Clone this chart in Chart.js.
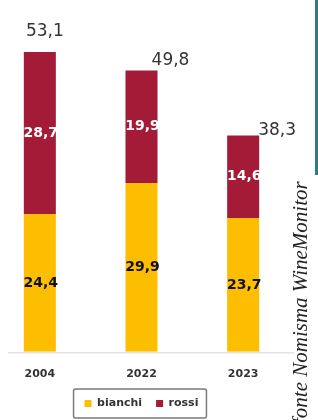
<!DOCTYPE html>
<html>
<head>
<meta charset="utf-8">
<script src="https://cdn.jsdelivr.net/npm/chart.js@4/dist/chart.umd.min.js"></script>
<style>
  html, body { margin: 0; padding: 0; background: #fff; overflow: hidden; }
  #Wrap { position: relative; width: 318px; height: 420px; overflow: hidden; }
  #Chart__Box { position: absolute; left: -11px; top: 0; width: 330px; height: 419px; }
  #Side__Bar { position: absolute; left: 315px; top: 0; width: 3px; height: 175px; background: #2b7d7e; }
  #Side__Text {
    position: absolute; left: 298px; top: 420px;
    transform-origin: 0 0; transform: rotate(-90deg);
    white-space: nowrap; font-family: "Liberation Serif", "DejaVu Serif", serif;
    font-style: italic; font-size: 21px; line-height: 1; color: #222;
    margin-left: -8px; margin-top: 4px;
  }
</style>
</head>
<body>
<div id="Wrap">
  <div id="Chart__Box"><canvas id="Wine__Chart"></canvas></div>
  <div id="Side__Bar"></div>
  <div id="Side__Text">fonte Nomisma WineMonitor</div>
</div>
<script>
/* categories and series */
const years = ["2004", "2022", "2023"];
const bianchi = [24.4, 29.9, 23.7];
const rossi = [28.7, 19.9, 14.6];
const seriesNames = ["bianchi", "rossi"];

/* where the total label sits relative to the top of each bar */
const TotalOffsets = [[5, 20], [29, 10], [34, 5]];
const FONT = "'DejaVu Sans', Verdana, sans-serif";

function fmt(v){
  return v.toFixed(1).replace(".", ",");
}

/* value labels inside the segments + totals above the bars */
const LabelPlugin = {
  id: "labels",
  afterDatasetsDraw(chart){
    const ctx = chart.ctx;
    ctx.save();
    ctx.textAlign = "center";
    ctx.textBaseline = "middle";
    chart.data.datasets.forEach((ds, d) => {
      const meta = chart.getDatasetMeta(d);
      meta.data.forEach((bar, i) => {
        ctx.font = "bold 14px " + FONT;
        ctx.fillStyle = d == 0 ? "#111" : "#fff";
        ctx.fillText(fmt(ds.data[i]), bar.x + 1, (bar.y + bar.base) / 2);
      });
    });
    const top = chart.getDatasetMeta(1);
    top.data.forEach((bar, i) => {
      ctx.font = "17px " + FONT;
      ctx.fillStyle = "#333";
      ctx.fillText(fmt(bianchi[i] + rossi[i]), bar.x + TotalOffsets[i][0], bar.y - TotalOffsets[i][1]);
    });
    ctx.restore();
  },
  afterDraw(chart){
    const ctx = chart.ctx;
    const area = chart.chartArea;
    /* light baseline */
    ctx.save();
    ctx.strokeStyle = "#e4e4e4";
    ctx.lineWidth = 1.5;
    ctx.beginPath();
    ctx.moveTo(area.left + 19, area.bottom + 1);
    ctx.lineTo(area.right, area.bottom + 1);
    ctx.stroke();
    /* border round the legend */
    const boxes = chart.legend.legendHitBoxes;
    if (boxes && boxes.length){
      let l = Math.min(...boxes.map(b => b.left));
      let r = Math.max(...boxes.map(b => b.left + b.width));
      let cy = boxes[0].top + boxes[0].height / 2;
      ctx.strokeStyle = "#7a7a7a";
      ctx.lineWidth = 1.5;
      ctx.beginPath();
      ctx.roundRect(l - 11, cy - 14.5, r - l + 19, 29, 2);
      ctx.stroke();
    }
    ctx.restore();
  }
};

new Chart(document.getElementById("Wine__Chart"), {
  type: "bar",
  plugins: [LabelPlugin],
  data: {
    labels: years,
    datasets: [
      { label: seriesNames[0], data: bianchi, backgroundColor: "#fdbd00" },
      { label: seriesNames[1], data: rossi, backgroundColor: "#a31b36" }
    ]
  },
  options: {
    responsive: true,
    maintainAspectRatio: false,
    animation: false,
    layout: { padding: { top: 13, left: 0, right: 25, bottom: 0 } },
    datasets: { bar: { barPercentage: 0.315, categoryPercentage: 1 } },
    scales: {
      x: {
        stacked: true,
        grid: { display: false, drawTicks: false },
        border: { display: false },
        afterFit(scale){ scale.height -= 13; },
        ticks: { color: "#333", font: { size: 11, weight: "bold", family: FONT }, padding: 16 }
      },
      y: { stacked: true, display: false, min: 0, max: 60 }
    },
    plugins: {
      tooltip: { enabled: false },
      legend: {
        position: "bottom",
        labels: {
          boxWidth: 7, boxHeight: 7, padding: 14, color: "#333",
          font: { size: 11, weight: "bold", family: FONT }
        }
      }
    }
  }
});
</script>
</body>
</html>
